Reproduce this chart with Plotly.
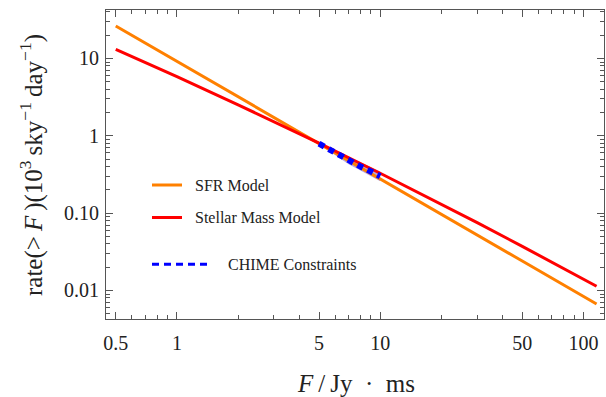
import plotly.graph_objects as go

# ---- data ----
flux = [0.5, 0.7, 1, 2, 3, 5, 10, 20, 30, 50, 116]
sfr_rate = [26.3, 15.8, 9.17, 3.2, 1.726, 0.794, 0.277, 0.0966, 0.0521, 0.024, 0.00668]
stellar_rate = [13.1, 8.85, 5.81, 2.52, 1.528, 0.802, 0.328, 0.1306, 0.0754, 0.0372, 0.01132]

chime_flux = [5, 6, 7, 8, 9, 10]
chime_rate = [0.79, 0.60, 0.48, 0.40, 0.345, 0.30]
chime_upper = [0.80, 0.64, 0.53, 0.45, 0.39, 0.345]
chime_lower = [0.78, 0.56, 0.43, 0.355, 0.30, 0.258]

x_tickvals = [0.5, 1, 5, 10, 50, 100]
x_ticktext = ["0.5", "1", "5", "10", "50", "100"]
y_tickvals = [0.01, 0.1, 1, 10]
y_ticktext = ["0.01", "0.10", "1", "10"]

legend_names = ["SFR Model", "Stellar Mass Model", "CHIME Constraints"]

ORANGE = "#FF8000"
RED = "#FF0000"
BLUE = "#0000FF"
FRAME = "#555555"
FONT = "Liberation Serif, Times New Roman, serif"

W, H = 606, 397
L, R, T, B = 106, 2, 10, 78
pw, ph = W - L - R, H - T - B

def px(x):
    return (x - L) / pw

def py(y):
    return (H - B - y) / ph

fig = go.Figure()

# CHIME band
fig.add_trace(go.Scatter(x=chime_flux, y=chime_upper, mode="lines",
                         line=dict(width=0), showlegend=False, hoverinfo="skip"))
fig.add_trace(go.Scatter(x=chime_flux, y=chime_lower, mode="lines",
                         line=dict(width=0), fill="tonexty",
                         fillcolor="rgba(120,90,200,0.55)", showlegend=False,
                         hoverinfo="skip"))

fig.add_trace(go.Scatter(x=flux, y=sfr_rate, mode="lines", name=legend_names[0],
                         line=dict(color=ORANGE, width=3), showlegend=False))
fig.add_trace(go.Scatter(x=flux, y=stellar_rate, mode="lines", name=legend_names[1],
                         line=dict(color=RED, width=3), showlegend=False))
fig.add_trace(go.Scatter(x=chime_flux, y=chime_rate, mode="lines", name=legend_names[2],
                         line=dict(color=BLUE, width=6, dash="6px,5px"), showlegend=False))

# minor ticks
x_minor = []
for d in [0.1, 1, 10, 100]:
    for k in range(2, 10):
        v = k * d
        if 0.45 <= v <= 125 and v not in x_tickvals:
            x_minor.append(round(v, 3))
y_minor = []
for d in [0.001, 0.01, 0.1, 1, 10]:
    for k in range(2, 10):
        v = k * d
        if 0.0043 <= v <= 42:
            y_minor.append(round(v, 4))

axis_common = dict(
    type="log", showgrid=False, zeroline=False,
    showline=True, linecolor=FRAME, linewidth=1, mirror="ticks",
    ticks="inside", ticklen=7, tickwidth=1, tickcolor=FRAME,
    tickfont=dict(family=FONT, size=20, color="#222"),
)

fig.update_xaxes(**axis_common, range=[-0.349, 2.101],
                 tickmode="array", tickvals=x_tickvals, ticktext=x_ticktext,
                 minor=dict(tickmode="array", tickvals=x_minor, ticks="inside",
                            ticklen=4, tickcolor=FRAME, tickwidth=1),
                 ticklabelstandoff=6)
fig.update_yaxes(**axis_common, range=[-2.369, 1.627],
                 tickmode="array", tickvals=y_tickvals, ticktext=y_ticktext,
                 minor=dict(tickmode="array", tickvals=y_minor, ticks="inside",
                            ticklen=4, tickcolor=FRAME, tickwidth=1),
                 ticklabelstandoff=2)

shapes = []
annotations = []
# legend
leg = [
    (legend_names[0], ORANGE, None, 152, 182, 193, 185),
    (legend_names[1], RED, None, 152, 182, 193, 217.5),
    (legend_names[2], BLUE, "7px,5px", 152, 212, 226, 264.3),
]
for name, col, dash, x0, x1, xt, yy in leg:
    ln = dict(color=col, width=3)
    if dash:
        ln["dash"] = dash
    shapes.append(dict(type="line", xref="paper", yref="paper",
                       x0=px(x0), x1=px(x1), y0=py(yy), y1=py(yy), line=ln))
    annotations.append(dict(xref="paper", yref="paper", x=px(xt), y=py(yy),
                            xanchor="left", yanchor="middle", showarrow=False,
                            text=name, font=dict(family=FONT, size=16, color="#222")))

# axis titles
annotations.append(dict(xref="paper", yref="paper", x=px(32), y=py(165),
                        xanchor="center", yanchor="middle", showarrow=False, textangle=-90,
                        text="rate(&gt;\u2009<i>F</i>\u2009)(10<sup>3</sup>\u2009sky<sup>−1</sup>\u2009day<sup>−1</sup>)",
                        font=dict(family=FONT, size=25, color="#222")))
annotations.append(dict(xref="paper", yref="paper", x=px(356), y=py(383),
                        xanchor="center", yanchor="middle", showarrow=False,
                        text="<i>F</i>\u2009/\u2009Jy\u2002·\u2002ms",
                        font=dict(family=FONT, size=25, color="#222")))

fig.update_layout(width=W, height=H, margin=dict(l=L, r=R, t=T, b=B),
                  paper_bgcolor="white", plot_bgcolor="white",
                  shapes=shapes, annotations=annotations, showlegend=False)

fig.write_html("out.html")
